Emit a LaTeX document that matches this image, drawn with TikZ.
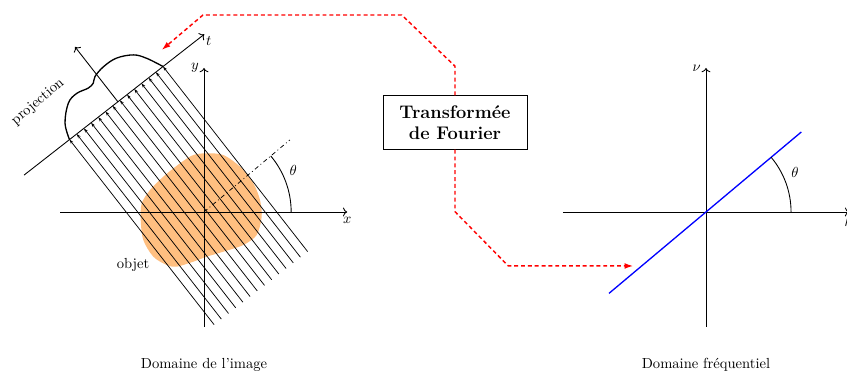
\documentclass[tikz,border=0pt]{standalone}
\usetikzlibrary{arrows.meta,positioning,calc}
\tikzset{every picture/.style={line width=0.6pt}}

\begin{document}
\begin{tikzpicture}[
    tfbox/.style={draw, minimum width=3.47cm, minimum height=1.29cm, align=center, font=\fontsize{12.5}{14.8}\selectfont\bfseries},
    tfline/.style={red, line width=1pt, dash pattern=on 2.7pt off 2pt, -{Latex[length=6pt,width=4pt]}},
    ray/.style={line width=0.5pt, -{Stealth[length=3pt,width=2pt]}}]
    \useasboundingbox (-4.916,-3.904) rectangle (15.494,5.108);
    % 物体
    \fill[orange!50] plot[smooth cycle] coordinates {(0.065,1.414) (0.465,1.373) (0.867,1.092) (1.188,0.692) (1.349,0.289) (1.390,-0.113) (1.270,-0.554) (0.947,-0.795) (0.465,-0.957) (0.065,-1.077) (-0.258,-1.198) (-0.658,-1.318) (-0.899,-1.277) (-1.222,-1.077) (-1.463,-0.675) (-1.525,-0.193) (-1.501,0.210) (-1.301,0.530) (-0.981,0.851) (-0.578,1.173) (-0.258,1.373)};
    \node (obj) at (-1.71,-1.28) {objet};
    % 投影
    \begin{scope}[rotate=38]
        \foreach \s in {0,...,13}
            \draw[ray] ({-1.48+0.22*\s},-2.29) -- ({-1.48+0.22*\s},3.37);
        \draw[->] (-2.87,3.37) -- (2.64,3.37) node[below right, inner sep=1pt] (tlab) {$t$};
        \draw[->] (0,3.37) -- (0,5.05);
        \draw[line width=0.9pt] plot[smooth, tension=0.6] coordinates {(-1.48,3.37) (-1.32,3.75) (-0.96,4.08) (-0.66,4.14) (-0.36,4.07) (-0.19,4.09) (-0.06,4.19) (0.25,4.25) (0.62,4.22) (0.99,4.03) (1.19,3.77) (1.38,3.37)};
        \node[rotate=40] (projlab) at (-1.52,4.55) {projection};
    \end{scope}
    % 图像域坐标轴
    \draw[->] (-3.47,0) -- (3.45,0) node[below] (xlab) {$x$};
    \draw[->] (0,-2.77) -- (0,3.47) node[left] (ylab) {$y$};
    \draw[dash dot, line width=0.5pt] (0,0) -- (40:2.7);
    \draw (2.1,0) arc[start angle=0, end angle=40, radius=2.1];
    \node (th1) at (25:2.37) {$\theta$};
    \node (dom1) at (0,-3.69) {Domaine de l'image};
    % 频域坐标轴
    \begin{scope}[shift={(12.096,0)}]
        \draw[->] (-3.45,0) -- (3.45,0) node[below] (mulab) {$\mu$};
        \draw[->] (0,-2.77) -- (0,3.47) node[left] (nulab) {$\nu$};
        \draw[blue, line width=0.9pt] (220:3.05) -- (40:3.0);
        \draw (2.05,0) arc[start angle=0, end angle=40, radius=2.05];
        \node (th2) at (24:2.35) {$\theta$};
        \node (dom2) at (0,-3.69) {Domaine fréquentiel};
    \end{scope}
    % 傅里叶变换
    \node[tfbox] (tf) at (6.048,2.157) {Transformée\\de Fourier};
    \coordinate (proj) at (-1.019,3.904);
    \coordinate (freq) at (10.345,-1.301);
    \draw[tfline] (tf.north) -- ++(0,0.70) -- (4.764,4.747) -- (-0.024,4.747) -- (proj);
    \draw[tfline] (tf.south) -- (6.048,0.007) -- (7.333,-1.301) -- (freq);
\end{tikzpicture}
\end{document}
